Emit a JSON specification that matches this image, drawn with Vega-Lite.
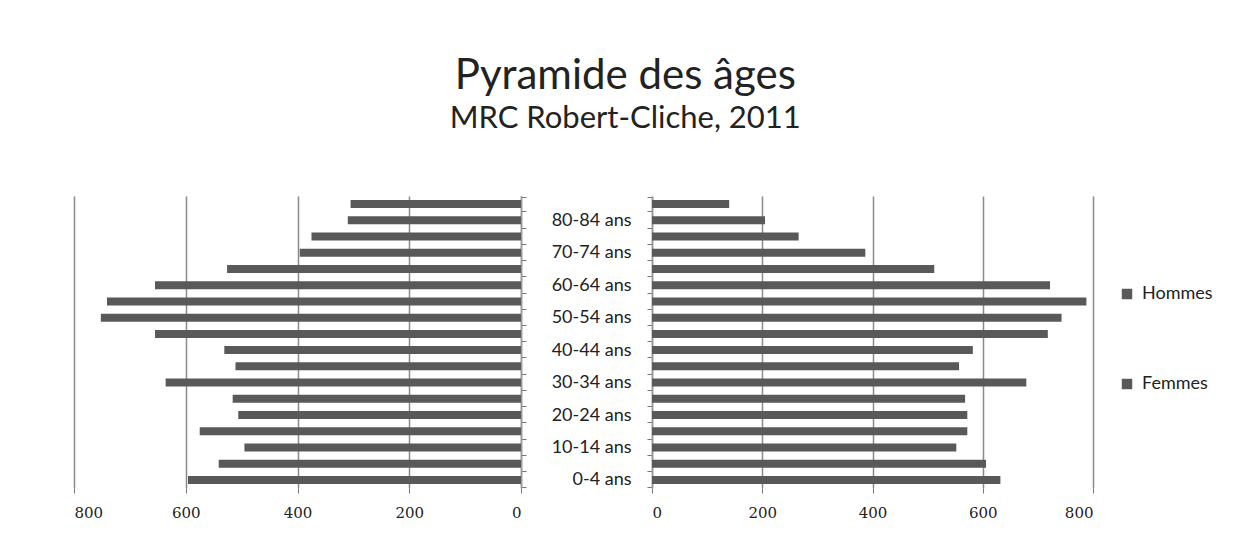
{
  "$schema": "https://vega.github.io/schema/vega-lite/v6.json",
  "background": "white",
  "padding": {"left": 73, "top": 55, "right": 10, "bottom": 10},
  "title": {
    "text": "Pyramide des âges",
    "subtitle": "MRC Robert-Cliche, 2011",
    "anchor": "middle",
    "dx": -18,
    "font": "Lato",
    "fontSize": 42,
    "fontWeight": "normal",
    "color": "#222222",
    "subtitleFont": "Lato",
    "subtitleFontSize": 31,
    "subtitleColor": "#222222",
    "subtitlePadding": 6,
    "offset": 52
  },
  "data": {
    "values": [
      {"age": "0-4 ans", "sexe": "Femmes", "pop": 596},
      {"age": "5-9 ans", "sexe": "Femmes", "pop": 541},
      {"age": "10-14 ans", "sexe": "Femmes", "pop": 495},
      {"age": "15-19 ans", "sexe": "Femmes", "pop": 575},
      {"age": "20-24 ans", "sexe": "Femmes", "pop": 506},
      {"age": "25-29 ans", "sexe": "Femmes", "pop": 516},
      {"age": "30-34 ans", "sexe": "Femmes", "pop": 636},
      {"age": "35-39 ans", "sexe": "Femmes", "pop": 511},
      {"age": "40-44 ans", "sexe": "Femmes", "pop": 531},
      {"age": "45-49 ans", "sexe": "Femmes", "pop": 655},
      {"age": "50-54 ans", "sexe": "Femmes", "pop": 752},
      {"age": "55-59 ans", "sexe": "Femmes", "pop": 741},
      {"age": "60-64 ans", "sexe": "Femmes", "pop": 655},
      {"age": "65-69 ans", "sexe": "Femmes", "pop": 526},
      {"age": "70-74 ans", "sexe": "Femmes", "pop": 396},
      {"age": "75-79 ans", "sexe": "Femmes", "pop": 375},
      {"age": "80-84 ans", "sexe": "Femmes", "pop": 310},
      {"age": "85 ans et +", "sexe": "Femmes", "pop": 305},
      {"age": "0-4 ans", "sexe": "Hommes", "pop": 632},
      {"age": "5-9 ans", "sexe": "Hommes", "pop": 606},
      {"age": "10-14 ans", "sexe": "Hommes", "pop": 552},
      {"age": "15-19 ans", "sexe": "Hommes", "pop": 572},
      {"age": "20-24 ans", "sexe": "Hommes", "pop": 572},
      {"age": "25-29 ans", "sexe": "Hommes", "pop": 568},
      {"age": "30-34 ans", "sexe": "Hommes", "pop": 679},
      {"age": "35-39 ans", "sexe": "Hommes", "pop": 557},
      {"age": "40-44 ans", "sexe": "Hommes", "pop": 582},
      {"age": "45-49 ans", "sexe": "Hommes", "pop": 718},
      {"age": "50-54 ans", "sexe": "Hommes", "pop": 743},
      {"age": "55-59 ans", "sexe": "Hommes", "pop": 788},
      {"age": "60-64 ans", "sexe": "Hommes", "pop": 722},
      {"age": "65-69 ans", "sexe": "Hommes", "pop": 512},
      {"age": "70-74 ans", "sexe": "Hommes", "pop": 387},
      {"age": "75-79 ans", "sexe": "Hommes", "pop": 266},
      {"age": "80-84 ans", "sexe": "Hommes", "pop": 205},
      {"age": "85 ans et +", "sexe": "Hommes", "pop": 140}
    ]
  },
  "spacing": 0,
  "hconcat": [
    {
      "width": 447,
      "height": 292,
      "transform": [{"filter": "datum.sexe === 'Femmes'"}],
      "mark": {"type": "bar", "size": 8},
      "encoding": {
        "x": {
          "field": "pop",
          "type": "quantitative",
          "scale": {"domain": [0, 800], "reverse": true, "nice": false},
          "axis": {
            "values": [0, 200, 400, 600, 800],
            "title": null,
            "grid": true,
            "gridColor": "#8a8a8a",
            "gridWidth": 1.5,
            "domain": false,
            "ticks": true,
            "tickSize": 5,
            "tickColor": "#777777",
            "labelFont": "DejaVu Serif",
            "labelFontSize": 15,
            "labelColor": "#222222",
            "labelPadding": 12
          }
        },
        "y": {
          "field": "age",
          "type": "nominal",
          "sort": ["85 ans et +", "80-84 ans", "75-79 ans", "70-74 ans", "65-69 ans", "60-64 ans", "55-59 ans", "50-54 ans", "45-49 ans", "40-44 ans", "35-39 ans", "30-34 ans", "25-29 ans", "20-24 ans", "15-19 ans", "10-14 ans", "5-9 ans", "0-4 ans"],
          "axis": {
            "orient": "right",
            "title": null,
            "labels": false,
            "ticks": true,
            "tickBand": "extent",
            "tickSize": 5,
            "tickColor": "#777777",
            "domainColor": "#999999",
            "domainWidth": 1.5,
            "minExtent": 5,
            "maxExtent": 5
          }
        },
        "color": {
          "field": "sexe",
          "type": "nominal",
          "scale": {"domain": ["Hommes", "Femmes"], "range": ["#595959", "#595959"]},
          "legend": {
            "orient": "none",
            "legendX": 1044,
            "legendY": 89,
            "title": null,
            "symbolType": "square",
            "symbolSize": 110,
            "labelFont": "Lato",
            "labelFontSize": 18,
            "labelColor": "#222222",
            "rowPadding": 72,
            "labelOffset": 6
          }
        }
      }
    },
    {
      "width": 441,
      "height": 292,
      "transform": [{"filter": "datum.sexe === 'Hommes'"}],
      "mark": {"type": "bar", "size": 8},
      "encoding": {
        "x": {
          "field": "pop",
          "type": "quantitative",
          "scale": {"domain": [0, 800], "nice": false},
          "axis": {
            "values": [0, 200, 400, 600, 800],
            "title": null,
            "grid": true,
            "gridColor": "#8a8a8a",
            "gridWidth": 1.5,
            "domain": false,
            "ticks": true,
            "tickSize": 5,
            "tickColor": "#777777",
            "labelFont": "DejaVu Serif",
            "labelFontSize": 15,
            "labelColor": "#222222",
            "labelPadding": 12
          }
        },
        "y": {
          "field": "age",
          "type": "nominal",
          "sort": ["85 ans et +", "80-84 ans", "75-79 ans", "70-74 ans", "65-69 ans", "60-64 ans", "55-59 ans", "50-54 ans", "45-49 ans", "40-44 ans", "35-39 ans", "30-34 ans", "25-29 ans", "20-24 ans", "15-19 ans", "10-14 ans", "5-9 ans", "0-4 ans"],
          "axis": {
            "orient": "left",
            "title": null,
            "labelExpr": "indexof(['0-4 ans','10-14 ans','20-24 ans','30-34 ans','40-44 ans','50-54 ans','60-64 ans','70-74 ans','80-84 ans'], datum.label) >= 0 ? datum.label : ''",
            "labelFont": "Lato",
            "labelFontSize": 18,
            "labelColor": "#222222",
            "labelPadding": 16,
            "ticks": true,
            "tickBand": "extent",
            "tickSize": 5,
            "tickColor": "#777777",
            "domainColor": "#999999",
            "domainWidth": 1.5,
            "minExtent": 125,
            "maxExtent": 125
          }
        },
        "color": {
          "field": "sexe",
          "type": "nominal",
          "scale": {"domain": ["Hommes", "Femmes"], "range": ["#595959", "#595959"]}
        }
      }
    }
  ],
  "config": {"view": {"stroke": null}}
}
